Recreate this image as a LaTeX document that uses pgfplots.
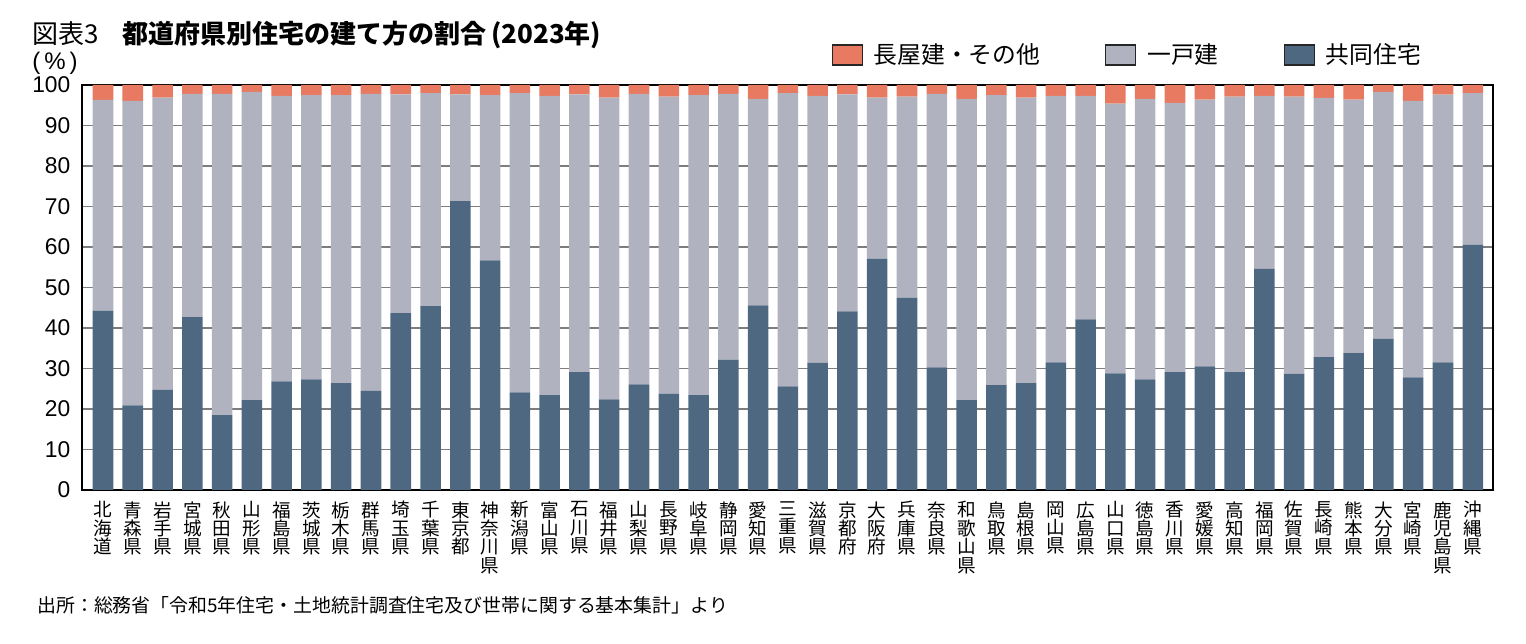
\documentclass[border=0pt]{standalone}
\usepackage{fontspec}
\setmainfont{Noto Sans CJK JP}
\newfontfamily\libsans{Liberation Sans}
\usepackage{pgfplots}
\usepackage{pgfplotstable}
\pgfplotsset{compat=1.18}
\definecolor{cD}{RGB}{79,104,130}
\definecolor{cG}{RGB}{176,179,191}
\definecolor{cO}{RGB}{233,122,98}
\definecolor{gridc}{RGB}{125,125,125}
\pgfplotsset{
  layers/mylayers/.define layer set={axis background,axis grid,main,axis ticks,axis lines,axis tick labels,axis descriptions,axis foreground}{},
}
\pgfplotstableread{
x d g o
1 44.3 52.0 3.7
2 20.9 75.2 3.9
3 24.7 72.2 3.1
4 42.7 55.1 2.2
5 18.5 79.3 2.2
6 22.2 76.1 1.7
7 26.8 70.5 2.7
8 27.3 70.2 2.5
9 26.4 71.1 2.5
10 24.5 73.3 2.2
11 43.7 54.0 2.3
12 45.4 52.6 2.0
13 71.3 26.4 2.3
14 56.7 40.8 2.5
15 24.1 73.9 2.0
16 23.4 73.9 2.7
17 29.1 68.6 2.3
18 22.4 74.5 3.1
19 26.1 71.7 2.2
20 23.8 73.3 2.9
21 23.4 74.1 2.5
22 32.2 65.6 2.2
23 45.6 51.0 3.4
24 25.6 72.4 2.0
25 31.4 65.9 2.7
26 44.1 53.6 2.3
27 57.1 39.8 3.1
28 47.5 49.6 2.9
29 30.3 67.5 2.2
30 22.2 74.4 3.4
31 25.9 71.6 2.5
32 26.4 70.5 3.1
33 31.5 65.8 2.7
34 42.1 55.2 2.7
35 28.8 66.6 4.6
36 27.3 69.3 3.4
37 29.1 66.5 4.4
38 30.5 65.9 3.6
39 29.1 68.0 2.9
40 54.6 42.7 2.7
41 28.7 68.4 2.9
42 32.8 64.0 3.2
43 33.8 62.6 3.6
44 37.4 60.9 1.7
45 27.8 68.3 3.9
46 31.5 66.1 2.4
47 60.6 37.4 2.0
}\data
\begin{document}
\begin{tikzpicture}
\begin{axis}[
  set layers=mylayers,
  at={(41pt,76.5pt)}, anchor=south west,
  scale only axis, width=705.5pt, height=202.5pt,
  ybar stacked, bar width=0.69,
  xmin=0.295, xmax=47.68, ymin=0, ymax=100,
  ytick={0,10,...,100},
  xtick={1,...,47},
  xticklabels={{北\\海\\道},{青\\森\\県},{岩\\手\\県},{宮\\城\\県},{秋\\田\\県},{山\\形\\県},{福\\島\\県},{茨\\城\\県},{栃\\木\\県},{群\\馬\\県},{埼\\玉\\県},{千\\葉\\県},{東\\京\\都},{神\\奈\\川\\県},{新\\潟\\県},{富\\山\\県},{石\\川\\県},{福\\井\\県},{山\\梨\\県},{長\\野\\県},{岐\\阜\\県},{静\\岡\\県},{愛\\知\\県},{三\\重\\県},{滋\\賀\\県},{京\\都\\府},{大\\阪\\府},{兵\\庫\\県},{奈\\良\\県},{和\\歌\\山\\県},{鳥\\取\\県},{島\\根\\県},{岡\\山\\県},{広\\島\\県},{山\\口\\県},{徳\\島\\県},{香\\川\\県},{愛\\媛\\県},{高\\知\\県},{福\\岡\\県},{佐\\賀\\県},{長\\崎\\県},{熊\\本\\県},{大\\分\\県},{宮\\崎\\県},{鹿\\児\\島\\県},{沖\\縄\\県}},
  xticklabel style={align=center, font=\fontsize{9.3}{9.2}\selectfont, anchor=north, yshift=-3.5pt, inner sep=2pt},
  yticklabel style={font=\fontsize{11.4}{13}\selectfont\libsans, xshift=-2.3pt},
  /pgf/number format/assume math mode=true,
  major tick length=0pt,
  ymajorgrids,
  grid style={gridc, line width=0.6pt},
  axis line style={black, line width=0.6pt},
  legend style={at={(axis description cs:0.5313,1)}, anchor=west, yshift=15pt,
    draw=none, fill=none, inner sep=0pt, outer sep=0pt,
    font=\fontsize{11.9}{13}\selectfont,
    legend columns=3, legend cell align=left,
    nodes={inner sep=0pt},
    /tikz/every odd column/.append style={column sep=5.4pt},
    /tikz/every even column/.append style={column sep=32.5pt}},
]
\addlegendimage{legend image code/.code={\draw[fill=cO,draw=black!85,line width=0.6pt] (0pt,-5pt) rectangle (15pt,5pt);}}
\addlegendentry{長屋建・その他}
\addlegendimage{legend image code/.code={\draw[fill=cG,draw=black!85,line width=0.6pt] (0pt,-5pt) rectangle (15pt,5pt);}}
\addlegendentry{一戸建}
\addlegendimage{legend image code/.code={\draw[fill=cD,draw=black!85,line width=0.6pt] (0pt,-5pt) rectangle (15pt,5pt);}}
\addlegendentry{共同住宅}
\addplot[fill=cD, draw=none, forget plot] table[x=x,y=d]{\data};
\addplot[fill=cG, draw=none, forget plot] table[x=x,y=g]{\data};
\addplot[fill=cO, draw=none, forget plot] table[x=x,y=o]{\data};
\end{axis}
\node[anchor=base west, inner sep=0pt, font=\fontsize{13}{15}\selectfont] at (16pt,299.5pt) {図表3\hspace{12pt}\textbf{都道府県別住宅の建て方の割合\,(2023年)}};
\node[anchor=west, inner sep=0pt, font=\fontsize{12}{14}\selectfont\libsans] at (16pt,290pt) {(\,\%\,)};
\node[anchor=west, inner sep=0pt, font=\fontsize{9.45}{11}\selectfont] at (18.5pt,19pt) {出所：総務省「令和5年住宅・土地統計調査住宅及び世帯に関する基本集計」より};
\pgfresetboundingbox
\useasboundingbox (0,0) rectangle (763pt,321.5pt);
\end{tikzpicture}
\end{document}
